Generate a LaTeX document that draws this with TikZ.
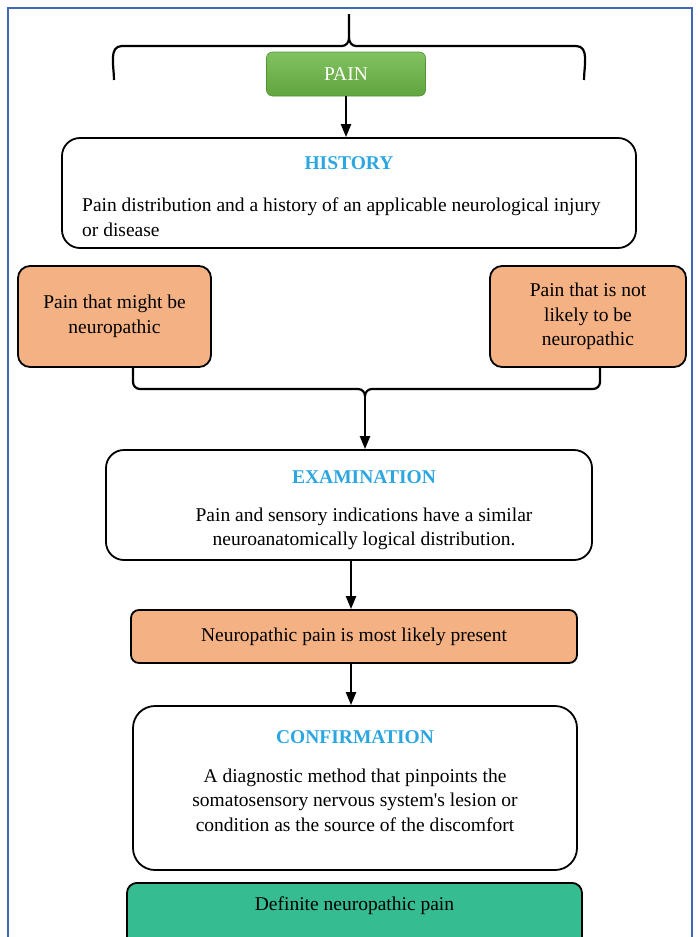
\documentclass[tikz,border=0pt]{standalone}
\usepackage{fontspec}
\setmainfont{Liberation Serif}
\usepackage{tikz}
\usetikzlibrary{shapes,arrows,arrows.meta}
\usetikzlibrary{positioning}
\definecolor{frameblue}{HTML}{3F67B5}
\definecolor{titleblue}{HTML}{2BA6E0}
\definecolor{painorange}{HTML}{F4B183}
\definecolor{paingreen}{HTML}{6BB744}
\definecolor{defteal}{HTML}{35BC90}
\tikzstyle{block} = [rectangle, draw, line width=1.8pt, rounded corners=14pt,
    inner sep=0pt, fill=white]

\begin{document}
\begin{tikzpicture}[x=1pt,y=-1pt]
\useasboundingbox (0,0) rectangle (699,937);
\clip (0,0) rectangle (699,937);

\tikzset{>={Triangle[length=13pt,width=10pt]}}
\def\fs{\fontsize{19.5}{24.5}\selectfont}
\tikzstyle{ttl} = [font=\fs\bfseries, text=titleblue];
\tikzstyle{txt} = [font=\fs, align=center];
\tikzstyle{orng} = [block, fill=painorange, rounded corners=12pt];
\tikzstyle{link} = [line width=2.2pt];

% frame
\draw[frameblue, line width=1.5pt] (8,940) -- (8,8) -- (692,8) -- (692,940);

% top brace
\coordinate (tb) at (349,14);
\coordinate (tl) at (114,80);
\coordinate (tr) at (584,80);
\draw[link] (tb) -- (349,38) to[out=-90,in=0] (342,46) -- (122,46) to[out=180,in=90] (tl);
\draw[link] (349,38) to[out=-90,in=180] (356,46) -- (576,46) to[out=0,in=90] (tr);

\node[block, draw=paingreen!80!black, line width=0.6pt, rounded corners=6pt,
      top color=paingreen!85!white, bottom color=paingreen!90!black,
      minimum width=159, minimum height=44, text=white, font=\fs] (pain) at (346,74) {PAIN};

% history
\node[block, minimum width=574, minimum height=110, rounded corners=18pt] (hist) at (349,193) {};
\node[ttl] (histT) at (349,163) {HISTORY};
\node[font=\fs, align=left, anchor=west, inner sep=0pt] (histB) at (82,217)
  {Pain distribution and a history of an applicable neurological injury\\or disease};
\draw[link,->] (pain) -- (hist.north -| pain);

% two outcomes
\node[orng, minimum width=193, minimum height=101] (maybe) at (114.5,316.5) {};
\node[txt] at (maybe) {Pain that might be\\neuropathic};
\node[orng, minimum width=196, minimum height=101] (notlikely) at (588,316.5) {};
\node[txt] at (notlikely) {Pain that is not\\likely to be\\neuropathic};

\coordinate (lx) at (133,0);
\coordinate (rx) at (600,0);
\coordinate (cx) at (351,0);
\coordinate (mj) at (365,396);
\draw[link] (maybe.south -| lx) -- (133,382) to[out=-90,in=180] (140,389) -- (358,389) to[out=0,in=90] (mj);
\draw[link] (notlikely.south -| rx) -- (600,382) to[out=-90,in=0] (593,389) -- (372,389) to[out=180,in=90] (mj);

% examination
\node[block, minimum width=486, minimum height=110, rounded corners=18pt] (exam) at (349,505) {};
\node[ttl] (examT) at (364,477) {EXAMINATION};
\node[txt] (examB) at (364,529) {Pain and sensory indications have a similar\\neuroanatomically logical distribution.};
\draw[link,->] (mj) -- (exam.north -| mj);

\node[orng, rounded corners=8pt, minimum width=446, minimum height=53] (likely) at (354,636.5)
  {\fs Neuropathic pain is most likely present};
\draw[link,->] (exam.south -| cx) -- (likely.north -| cx);

% confirmation
\node[block, minimum width=444, minimum height=164, rounded corners=22pt] (conf) at (355,788) {};
\node[ttl] (confT) at (355,737) {CONFIRMATION};
\node[txt] (confB) at (355,800) {A diagnostic method that pinpoints the\\somatosensory nervous system\textquotesingle s lesion or\\condition as the source of the discomfort};
\draw[link,->] (likely.south -| cx) -- (conf.north -| cx);

\node[block, fill=defteal, rounded corners=10pt, minimum width=455, minimum height=80, anchor=north] (definite) at (354.5,882) {};
\node[font=\fs] (defT) at (354.5,906) {Definite neuropathic pain};

\end{tikzpicture}
\end{document}
